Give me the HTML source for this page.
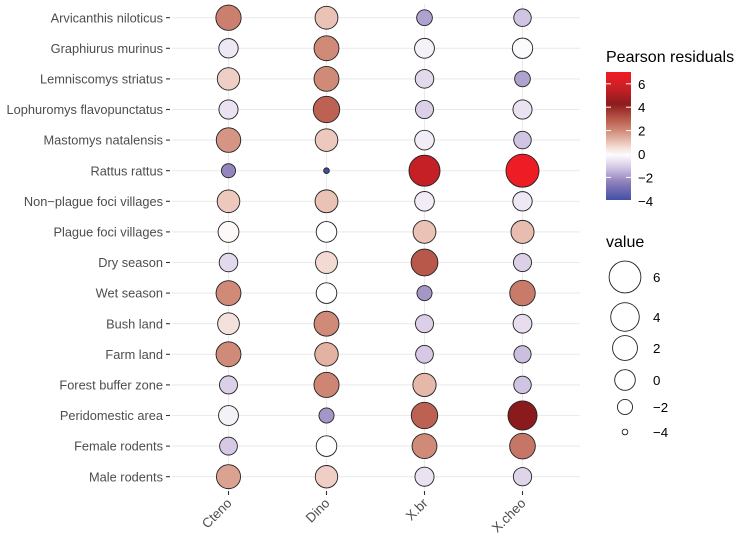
<!DOCTYPE html>
<html><head><meta charset="utf-8">
<style>
html,body{margin:0;padding:0;background:#fff;}
svg{display:block;font-family:"Liberation Sans",Arial,sans-serif;}
</style></head>
<body>
<svg id="chart" width="735" height="539" viewBox="0 0 735 539" xmlns="http://www.w3.org/2000/svg">
<defs>
<linearGradient id="cbar" x1="0" y1="1" x2="0" y2="0"></linearGradient>
</defs>
<g id="grid"></g>
<g id="marks"></g>
<g id="yaxis"></g>
<g id="xaxis"></g>
<g id="legend"></g>
<g id="sizelegend"></g>
</svg>
<script>
const rows = ["Arvicanthis niloticus","Graphiurus murinus","Lemniscomys striatus","Lophuromys flavopunctatus","Mastomys natalensis","Rattus rattus","Non\u2212plague foci villages","Plague foci villages","Dry season","Wet season","Bush land","Farm land","Forest buffer zone","Peridomestic area","Female rodents","Male rodents"];
const cols = ["Cteno","Dino","X.br","X.cheo"];
const valCteno = [2.2,-0.5,0.8,-0.6,1.8,-2.3,0.9,0.1,-0.8,2.0,0.5,2.0,-1.0,-0.3,-1.1,1.6];
const valDino  = [1.0,2.0,2.0,2.8,0.9,-4.0,1.0,0.0,0.6,0.0,2.0,1.3,2.1,-2.0,0.0,0.8];
const valXbr   = [-1.8,-0.3,-0.8,-1.0,-0.4,5.5,-0.4,1.0,3.0,-2.0,-1.0,-1.1,1.2,2.8,2.0,-0.6];
const valXcheo = [-1.2,-0.1,-1.8,-0.6,-1.2,6.8,-0.5,1.1,-1.0,2.3,-0.7,-1.3,-1.2,4.3,2.4,-0.9];
const colorTicks = [6,4,2,0,-2,-4];
const sizeTicks = [6,4,2,0,-2,-4];

const NS="http://www.w3.org/2000/svg";
function mk(tag,attrs,parent){const e=document.createElementNS(NS,tag);for(const k in attrs)e.setAttribute(k,attrs[k]);parent.appendChild(e);return e;}
const xScale = i => 228.5 + i*98;
const yScale = i => 17.7 + i*30.6;
const rScale = v => Math.sqrt(Math.max(0, 8 + 24.5*(v+4)));
const stops = [[-4,[63,79,166]],[-2.5,[138,122,184]],[-1,[220,207,232]],[0,[255,255,255]],[1,[235,195,182]],[2,[208,138,120]],[3,[184,88,74]],[4.3,[139,26,28]],[5.5,[196,32,38]],[6.8,[238,28,37]]];
function color(v){
  if(v<=stops[0][0])return `rgb(${stops[0][1]})`;
  for(let i=1;i<stops.length;i++){if(v<=stops[i][0]){const a=stops[i-1],b=stops[i];const t=(v-a[0])/(b[0]-a[0]);const c=a[1].map((x,j)=>Math.round(x+(b[1][j]-x)*t));return `rgb(${c})`;}}
  return `rgb(${stops[stops.length-1][1]})`;
}
const grid=document.getElementById('grid'),marks=document.getElementById('marks'),yax=document.getElementById('yaxis'),xax=document.getElementById('xaxis');
rows.forEach((r,i)=>{
  const gl=mk('line',{x1:172,x2:580,y1:yScale(i),y2:yScale(i),stroke:'#ebebeb','stroke-width':1.1},grid);
  
  
  const t=mk('text',{x:163,y:yScale(i)+4.6,'text-anchor':'end','font-size':12.8,fill:'#4d4d4d'},yax);t.textContent=r;
  
  
  const tk=mk('line',{x1:166,x2:170,y1:yScale(i),y2:yScale(i),stroke:'#333','stroke-width':1.1},yax);
  
  
});
const series=[valCteno,valDino,valXbr,valXcheo];
cols.forEach((c,j)=>{
  const gl=mk('line',{x1:xScale(j),x2:xScale(j),y1:4,y2:490,stroke:'#ebebeb','stroke-width':1.1},grid);
  
  
  const tk=mk('line',{x1:xScale(j),x2:xScale(j),y1:491,y2:495,stroke:'#333','stroke-width':1.1},xax);
  
  
  const t=mk('text',{x:xScale(j)+4,y:504,'text-anchor':'end','font-size':13.3,fill:'#4d4d4d',transform:`rotate(-45 ${xScale(j)+4} 504)`},xax);t.textContent=c;
  
  
  series[j].forEach((v,i)=>{
    const ci=mk('circle',{cx:xScale(j),cy:yScale(i),r:rScale(v),fill:color(v),stroke:'#222','stroke-width':0.9},marks);
    
    
  });
});
const lg=document.getElementById('legend');
const grad=document.getElementById('cbar');
const vmin=-3.93,vmax=7.0;
for(let k=0;k<=20;k++){const v=vmin+(vmax-vmin)*k/20;mk('stop',{offset:(k/20),'stop-color':color(v)},grad);}
const tt=mk('text',{x:606,y:62,'font-size':16,fill:'#000'},lg);tt.textContent='Pearson residuals';


const cb=mk('rect',{x:606,y:72,width:25,height:128,fill:'url(#cbar)'},lg);


const cy=v=>154-11.7*v;
colorTicks.forEach(v=>{
  mk('line',{x1:606,x2:611,y1:cy(v),y2:cy(v),stroke:'#fff','stroke-width':1},lg);
  mk('line',{x1:626,x2:631,y1:cy(v),y2:cy(v),stroke:'#fff','stroke-width':1},lg);
  const t=mk('text',{x:638,y:cy(v)+5,'font-size':13.3,fill:'#000'},lg);t.textContent=v<0?'\u2212'+(-v):String(v);
  
  
});
const sl=document.getElementById('sizelegend');
const st=mk('text',{x:606,y:247,'font-size':16,fill:'#000'},sl);st.textContent='value';


const sy=[277,317,348,380,407,432];
sizeTicks.forEach((v,i)=>{
  const c=mk('circle',{cx:625,cy:sy[i],r:rScale(v),fill:'#fff',stroke:'#222','stroke-width':0.9},sl);
  
  
  const t=mk('text',{x:653,y:sy[i]+5,'font-size':13.3,fill:'#000'},sl);t.textContent=v<0?'\u2212'+(-v):String(v);
  
  
});
</script>
</body></html>
